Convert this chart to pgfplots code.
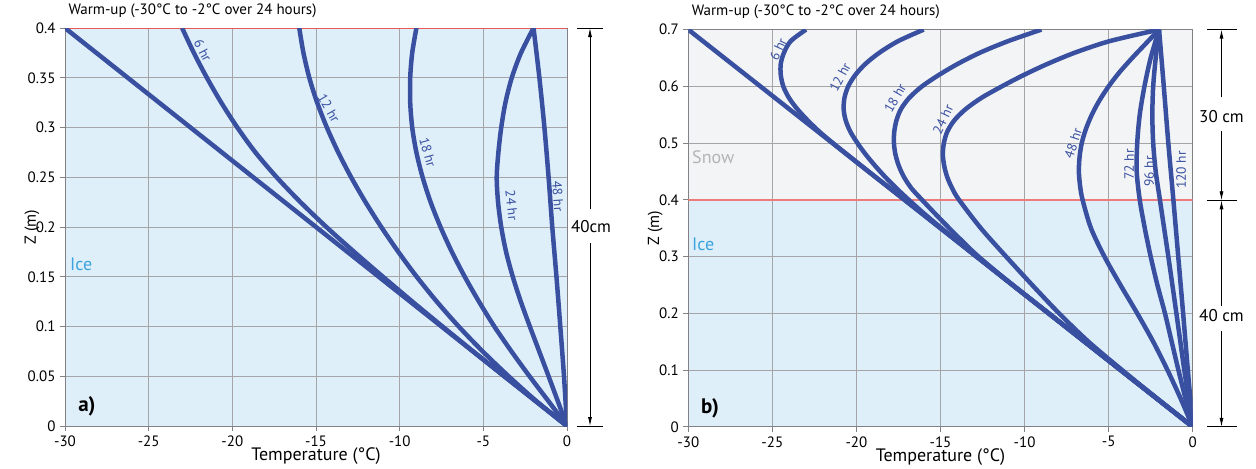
\documentclass[border=0pt]{standalone}
\usepackage{fontspec}
\setmainfont{PT Sans}
\usepackage{pgfplots}
\pgfplotsset{compat=1.18}
\usetikzlibrary{arrows.meta}
\definecolor{curve}{RGB}{57,80,160}
\definecolor{iceblue}{RGB}{223,239,250}
\definecolor{snowgray}{RGB}{243,244,246}
\definecolor{gridgray}{RGB}{165,165,168}
\definecolor{framegray}{RGB}{130,130,134}
\definecolor{icetext}{RGB}{60,163,222}
\definecolor{snowtext}{RGB}{180,180,180}
\definecolor{redline}{RGB}{232,90,90}
\tikzset{lab/.style={text=curve, font=\fontsize{13.5}{15}\selectfont, inner sep=0pt}}
\pgfplotsset{
  panel/.style={
    scale only axis, set layers,
    xmin=-30, xmax=0,
    xtick={-30,-25,-20,-15,-10,-5,0},
    xticklabels={-30,-25,-20,-15,-10,-5,0},
    grid=major,
    major grid style={gridgray, line width=1pt},
    axis line style={framegray, line width=1pt},
    tick style={framegray, line width=1pt},
    tick align=outside, tick pos=left,
    major tick length=5pt,
    ticklabel style={font=\fontsize{15}{17}\selectfont},
    xticklabel style={anchor=north, yshift=-1pt},
    yticklabel style={anchor=east, xshift=-1pt},
    xlabel={Temperature (°C)},
    ylabel={Z (m)},
    xlabel style={font=\fontsize{18}{20}\selectfont, at={(axis description cs:0.5,0)}, anchor=center, yshift=-30pt},
    ylabel style={font=\fontsize{16}{18}\selectfont, at={(axis description cs:0,0.5)}, anchor=center, yshift=33pt},
    title style={font=\fontsize{15}{17}\selectfont, at={(axis description cs:0,1)}, anchor=base west, yshift=8pt},
    title={Warm-up (-30°C to -2°C over 24 hours)},
  },
  cv/.style={draw=curve, line width=4.5pt, line join=round, smooth, tension=0.5, mark=none},
}
\begin{document}
\begin{tikzpicture}
% ---------------- panel a ----------------
\begin{axis}[panel, at={(65pt,40.3pt)}, anchor=south west,
  width=502pt, height=398pt,
  ymin=0, ymax=0.4,
  ytick={0,0.05,0.1,0.15,0.2,0.25,0.3,0.35,0.4},
  yticklabels={0,0.05,0.1,0.15,0.2,0.25,0.3,0.35,0.4},
  axis background/.style={fill=iceblue}]
\draw[redline, line width=1.2pt] (axis cs:-30,0.4) -- (axis cs:0,0.4);
\addplot[cv] coordinates {(-30,0.4) (0,0)};
\addplot[cv] coordinates {(-23,0.4) (-22.30,0.375) (-21.52,0.35) (-20.66,0.325) (-19.70,0.3) (-18.62,0.275) (-17.35,0.25) (-15.93,0.225) (-14.38,0.2) (-12.72,0.175) (-11.00,0.15) (-9.24,0.125) (-7.44,0.1) (-5.61,0.075) (-3.75,0.05) (-1.87,0.025) (0,0)};
\addplot[cv] coordinates {(-16,0.4) (-15.75,0.375) (-15.4,0.35) (-14.93,0.325) (-14.35,0.3) (-13.67,0.275) (-12.90,0.25) (-12.04,0.225) (-11.10,0.2) (-10.08,0.175) (-8.98,0.15) (-7.78,0.125) (-6.47,0.1) (-5.04,0.075) (-3.49,0.05) (-1.83,0.025) (0,0)};
\addplot[cv] coordinates {(-9,0.4) (-9.25,0.375) (-9.37,0.35) (-9.37,0.325) (-9.25,0.3) (-9.0,0.275) (-8.63,0.25) (-8.15,0.225) (-7.56,0.2) (-6.88,0.175) (-6.11,0.15) (-5.26,0.125) (-4.34,0.1) (-3.32,0.075) (-2.24,0.05) (-1.11,0.025) (0,0)};
\addplot[cv] coordinates {(-2,0.4) (-2.75,0.375) (-3.3,0.35) (-3.68,0.325) (-3.93,0.3) (-4.1,0.275) (-4.2,0.25) (-4.12,0.225) (-3.93,0.2) (-3.64,0.175) (-3.24,0.15) (-2.76,0.125) (-2.22,0.1) (-1.66,0.075) (-1.1,0.05) (-0.55,0.025) (0,0)};
\addplot[cv] coordinates {(-2,0.4) (-1.65,0.35) (-1.35,0.3) (-1.1,0.25) (-0.88,0.2) (-0.63,0.15) (-0.4,0.1) (-0.18,0.05) (0,0)};
\node[lab, rotate=-62] at (axis cs:-21.76,0.3776) {6 hr};
\node[lab, rotate=-60] at (axis cs:-14.23,0.3193) {12 hr};
\node[lab, rotate=-74] at (axis cs:-8.32,0.2751) {18 hr};
\node[lab, rotate=-84] at (axis cs:-3.30,0.2218) {24 hr};
\node[lab, rotate=-86] at (axis cs:-0.55,0.2309) {48 hr};
\node[anchor=west, text=icetext, font=\fontsize{18}{20}\selectfont, inner sep=0pt] at (axis cs:-29.7,0.1625) {Ice};
\node[anchor=center, font=\fontsize{21}{23}\selectfont\bfseries, inner sep=0pt] at (axis cs:-28.69,0.0198) {a)};
\end{axis}
% ---------------- panel b ----------------
\begin{axis}[panel, at={(688.3pt,39.5pt)}, anchor=south west,
  width=504.4pt, height=397.2pt,
  ymin=0, ymax=0.7,
  ytick={0,0.1,0.2,0.3,0.4,0.5,0.6,0.7},
  yticklabels={0,0.1,0.2,0.3,0.4,0.5,0.6,0.7}]
\begin{pgfonlayer}{axis background}
\fill[iceblue] (axis cs:-30,0) rectangle (axis cs:0,0.4);
\fill[snowgray] (axis cs:-30,0.4) rectangle (axis cs:0,0.7);
\end{pgfonlayer}
\draw[redline!80, line width=1.4pt] (axis cs:-30,0.4) -- (axis cs:0,0.4);
\addplot[cv] coordinates {(-30,0.7) (0,0)};
\addplot[cv] coordinates {(-23,0.7) (-23.9,0.68) (-24.3,0.66) (-24.5,0.64) (-24.5,0.62) (-24.35,0.6) (-24.02,0.58) (-23.52,0.56) (-22.9,0.54) (-22.2,0.52) (-21.4,0.5) (-20.56,0.48) (-19.29,0.45) (-17.14,0.4) (-12.86,0.3) (-8.57,0.2) (-4.29,0.1) (0,0)};
\addplot[cv] coordinates {(-16,0.7) (-17.5,0.68) (-18.6,0.66) (-19.45,0.64) (-20.07,0.62) (-20.49,0.6) (-20.71,0.58) (-20.76,0.56) (-20.64,0.54) (-20.36,0.52) (-19.94,0.5) (-19.45,0.48) (-18.89,0.46) (-18.28,0.44) (-17.61,0.42) (-16.89,0.4) (-16.14,0.38) (-15.35,0.36) (-14.53,0.34) (-13.69,0.32) (-12.86,0.3) (-8.57,0.2) (-4.29,0.1) (0,0)};
\addplot[cv] coordinates {(-9,0.7) (-10.95,0.68) (-12.6,0.66) (-13.95,0.64) (-15.1,0.62) (-16.1,0.6) (-16.85,0.58) (-17.35,0.56) (-17.62,0.54) (-17.75,0.52) (-17.77,0.5) (-17.68,0.48) (-17.48,0.46) (-17.17,0.44) (-16.72,0.42) (-16.1,0.4) (-15.3,0.375) (-14.48,0.35) (-13.63,0.325) (-12.74,0.3) (-10.72,0.25) (-8.57,0.2) (-6.43,0.15) (-4.29,0.1) (-2.14,0.05) (0,0)};
\addplot[cv] coordinates {(-2,0.7) (-4.9,0.68) (-6.95,0.66) (-8.6,0.64) (-10.05,0.62) (-11.35,0.6) (-12.55,0.58) (-13.5,0.56) (-14.18,0.54) (-14.6,0.52) (-14.8,0.5) (-14.86,0.48) (-14.78,0.46) (-14.6,0.44) (-14.3,0.42) (-13.9,0.4) (-12.6,0.35) (-11.1,0.3) (-9.55,0.25) (-7.95,0.2) (-6.2,0.15) (-4.2,0.1) (-2.12,0.05) (0,0)};
\addplot[cv] coordinates {(-2,0.7) (-2.8,0.675) (-3.6,0.65) (-4.35,0.625) (-5.0,0.6) (-5.55,0.575) (-6.0,0.55) (-6.35,0.525) (-6.6,0.5) (-6.73,0.475) (-6.77,0.45) (-6.7,0.425) (-6.55,0.4) (-6.05,0.35) (-5.25,0.3) (-4.3,0.25) (-3.3,0.2) (-2.35,0.15) (-1.5,0.1) (-0.72,0.05) (0,0)};
\addplot[cv] coordinates {(-2,0.7) (-2.5,0.65) (-2.87,0.6) (-3.15,0.55) (-3.3,0.5) (-3.33,0.45) (-3.15,0.4) (-2.85,0.35) (-2.5,0.3) (-2.1,0.25) (-1.65,0.2) (-1.25,0.15) (-0.85,0.1) (-0.43,0.05) (0,0)};
\addplot[cv] coordinates {(-2,0.7) (-2.2,0.65) (-2.35,0.6) (-2.4,0.55) (-2.35,0.5) (-2.2,0.45) (-1.95,0.4) (-1.7,0.35) (-1.45,0.3) (-0.97,0.2) (-0.5,0.1) (0,0)};
\addplot[cv] coordinates {(-2,0.7) (-1.72,0.6) (-1.45,0.5) (-1.15,0.4) (-0.86,0.3) (-0.57,0.2) (-0.29,0.1) (0,0)};
\node[lab, rotate=65] at (axis cs:-24.66,0.6653) {6 hr};
\node[lab, rotate=62] at (axis cs:-20.98,0.616) {12 hr};
\node[lab, rotate=60] at (axis cs:-17.70,0.579) {18 hr};
\node[lab, rotate=65] at (axis cs:-14.85,0.542) {24 hr};
\node[lab, rotate=72] at (axis cs:-7.11,0.4996) {48 hr};
\node[lab, rotate=90] at (axis cs:-3.78,0.4626) {72 hr};
\node[lab, rotate=90] at (axis cs:-2.59,0.4502) {96 hr};
\node[lab, rotate=90] at (axis cs:-0.69,0.4524) {120 hr};
\node[anchor=west, text=snowtext, font=\fontsize{18}{20}\selectfont, inner sep=0pt] at (axis cs:-29.78,0.475) {Snow};
\node[anchor=west, text=icetext, font=\fontsize{18}{20}\selectfont, inner sep=0pt] at (axis cs:-29.78,0.3216) {Ice};
\node[anchor=center, font=\fontsize{21}{23}\selectfont\bfseries, inner sep=0pt] at (axis cs:-28.71,0.0326) {b)};
\end{axis}
% ---------------- dimension annotations ----------------
\begin{scope}[x=1pt, y=1pt, line width=0.8pt, black]
\draw (577,438.3) -- (603,438.3);
\draw (577,40.3) -- (603,40.3);
\draw[-{Latex[length=9pt,width=4pt]}] (590,257) -- (590,438.3);
\draw[-{Latex[length=9pt,width=4pt]}] (590,223) -- (590,40.3);
\node[font=\fontsize{17}{19}\selectfont, inner sep=0pt] at (591,239.3) {40cm};
\draw (1207,436.7) -- (1237,436.7);
\draw (1207,266) -- (1237,266);
\draw (1207,39.5) -- (1237,39.5);
\draw[-{Latex[length=9pt,width=4pt]}] (1221.5,369) -- (1221.5,436.7);
\draw[-{Latex[length=9pt,width=4pt]}] (1221.5,335) -- (1221.5,266);
\draw[-{Latex[length=9pt,width=4pt]}] (1221.5,160) -- (1221.5,266);
\draw[-{Latex[length=9pt,width=4pt]}] (1221.5,135) -- (1221.5,39.5);
\node[font=\fontsize{17}{19}\selectfont, inner sep=0pt] at (1221.5,350) {30 cm};
\node[font=\fontsize{17}{19}\selectfont, inner sep=0pt] at (1221.5,151) {40 cm};
\path (0,0) (1256,465);
\end{scope}
\end{tikzpicture}
\end{document}
